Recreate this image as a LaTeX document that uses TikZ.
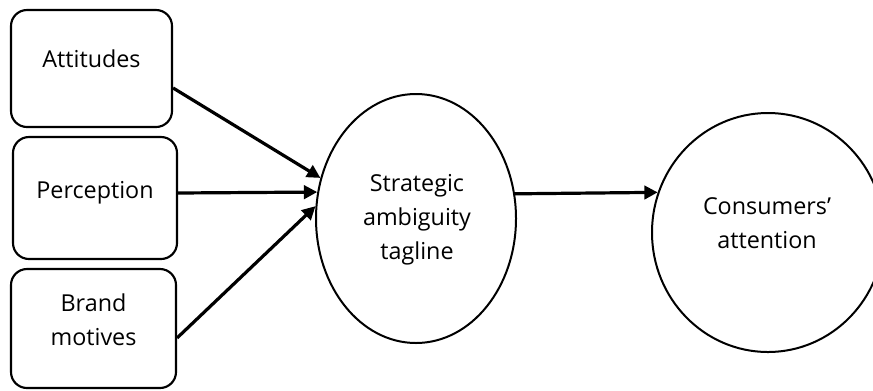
\documentclass[tikz,border=0pt]{standalone}
\usepackage{fontspec}
\setmainfont{Open Sans}
\usetikzlibrary{shapes.geometric,arrows.meta}
\begin{document}
\begin{tikzpicture}[x=0.75pt,y=-0.75pt,
  box/.style={draw,line width=1.6pt,rounded corners=12pt,inner sep=0pt},
  oval/.style={draw,ellipse,line width=1.5pt,inner sep=0pt},
  lbl/.style={font=\fontsize{17.5}{25.5}\selectfont,align=center,inner sep=0pt,anchor=base},
  conn/.style={line width=2.4pt,-{Triangle[length=10pt,width=10pt]}}]
\useasboundingbox (0,0) rectangle (873,390);
\clip (0,0) rectangle (873,390);
% boxes
\node[box,minimum width=120.75pt,minimum height=87.75pt] (A) at (91.5,68.5) {};
\node[box,minimum width=123pt,minimum height=91.5pt] (P) at (95,198) {};
\node[box,minimum width=123.75pt,minimum height=89.25pt] (B) at (93.5,328.5) {};
% ellipses
\node[oval,minimum width=150pt,minimum height=186.75pt] (S) at (416,218.5) {};
\node[oval,minimum width=174pt,minimum height=179.25pt] (C) at (768,232.5) {};
% labels (base = baseline of the last line)
\node[lbl] (tA) at (91.5,67) {Attitudes};
\node[lbl] (tP) at (95,198) {Perception};
\node[lbl] (tB) at (93.5,345) {Brand\\motives};
\node[lbl] (tS) at (417,259) {Strategic\\ambiguity\\tagline};
\node[lbl] (tC) at (767,248) {Consumers’\\attention};
% connectors
\draw[conn] ([yshift=-14.6pt]A.east) -- (S.157.5);
\draw[conn] ([yshift=3.75pt]P.east) -- (S.165.8);
\draw[conn] ([yshift=-7.1pt]B.east) -- (S.173.5);
\draw[conn] (S.14.6) -- (C.160);
\end{tikzpicture}
\end{document}
